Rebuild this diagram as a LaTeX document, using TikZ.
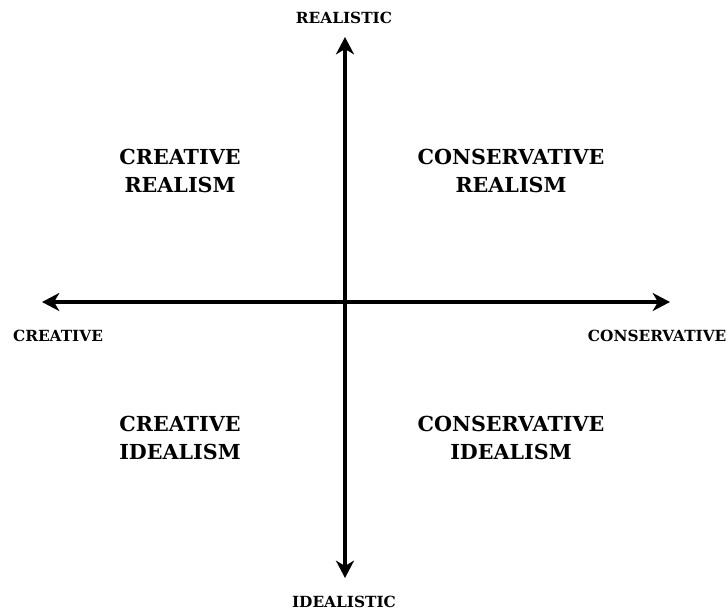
\documentclass[tikz,border=0pt]{standalone}
\usepackage{fontspec}
\setmainfont{DejaVu Serif}
\usetikzlibrary{arrows.meta, positioning}

\begin{document}
\begin{tikzpicture}[
    x=0.75pt, y=-0.75pt,
    axis/.style={{Stealth[length=13pt, width=13.5pt, inset=4pt]}-{Stealth[length=13pt, width=13.5pt, inset=4pt]}, line width=2.6pt},
    quad/.style={align=center, font=\bfseries\fontsize{15.5}{21}\selectfont},
    pole/.style={font=\bfseries\fontsize{11.5}{14}\selectfont}
]
\useasboundingbox (0,0) rectangle (728,612);
% axis ends
\coordinate (top) at (345,37);
\coordinate (bottom) at (345,578);
\coordinate (left) at (42,302);
\coordinate (right) at (670,302);
\draw[axis] (bottom) -- (top);
\draw[axis] (left) -- (right);
% poles
\node[pole] (realistic) at (344,18) {REALISTIC};
\node[pole] (idealistic) at (344,602) {IDEALISTIC};
\node[pole] (creative) at (58,336) {CREATIVE};
\node[pole, anchor=east, inner xsep=1pt] (conservative) at (728,336) {CONSERVATIVE};
% quadrants
\node[quad] (crealism) at (180,171) {CREATIVE\\REALISM};
\node[quad] (cvrealism) at (511,171) {CONSERVATIVE\\REALISM};
\node[quad] (cidealism) at (180,438) {CREATIVE\\IDEALISM};
\node[quad] (cvidealism) at (511,438) {CONSERVATIVE\\IDEALISM};
\end{tikzpicture}
\end{document}
